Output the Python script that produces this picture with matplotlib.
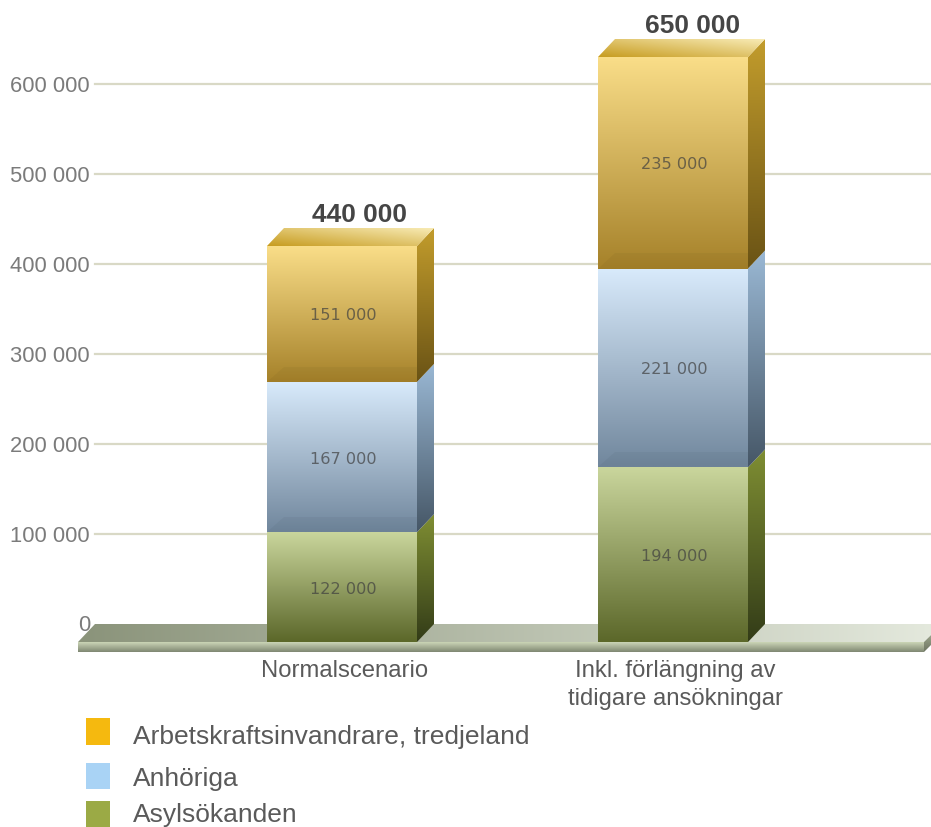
import numpy as np
import matplotlib
matplotlib.use("Agg")
from matplotlib import pyplot as plt
from matplotlib.colors import to_rgb
from matplotlib.patches import Polygon, Rectangle

plt.rcParams['font.family'] = ['Liberation Sans', 'DejaVu Sans']

# Data
categories = ["Normalscenario", "Inkl. förlängning av\ntidigare ansökningar"]
series_names = ["Asylsökanden", "Anhöriga", "Arbetskraftsinvandrare, tredjeland"]
asylum = [122000, 194000]
relatives = [167000, 221000]
workers = [151000, 235000]
y_ticks = [0, 100000, 200000, 300000, 400000, 500000, 600000]

# front top, front bottom, side top, side bottom
styles = [
    ("#C9D59C", "#5C682A", "#7F8E33", "#333C18"),
    ("#D8EAFB", "#71879D", "#9AB8D4", "#465767"),
    ("#F9DD88", "#A6822A", "#C29C2C", "#6A5315"),
]
legend_colors = ["#9BAA45", "#A9D3F5", "#F5B90F"]

W, H = 931, 828
PX = 0.0009  # pixels per unit of value
BASE = 643   # pixel row of value 0 on the front plane
DEPTH_Y = 18 / PX
DEPTH_X = 17 / 331
BAR_W = 150 / 331

fig = plt.figure(figsize=(W / 100, H / 100), dpi=100)
ax = fig.add_axes([0, 0, 1, 1])
ax.set_xlim(-342 / 331, (W - 342) / 331)
ax.set_ylim((BASE - H) / PX, BASE / PX)
ax.axis("off")


def px(x, y):
    # layout helper: image pixel to data position
    return (x - 342) / 331, (BASE - y) / PX


def face(pts, c0, c1, direction="v", z=3):
    # gradient filled polygon, c0 = top/left, c1 = bottom/right
    pts = np.array(pts)
    x0, x1 = pts[:, 0].min(), pts[:, 0].max()
    y0, y1 = pts[:, 1].min(), pts[:, 1].max()
    n = 64
    u, v = np.meshgrid(np.linspace(0, 1, n), np.linspace(0, 1, n))
    t = {"v": v, "h": u, "d": (u + (1 - v)) / 2}[direction]
    a, b = np.array(to_rgb(c0)), np.array(to_rgb(c1))
    img = a + (b - a) * t[..., None]
    im = ax.imshow(img, extent=(x0, x1, y0, y1), origin="upper", aspect="auto",
                   zorder=z, interpolation="bilinear")
    im.set_clip_path(Polygon(pts, closed=True, transform=ax.transData))


# Grid lines sit on the back plane
for v in y_ticks[1:]:
    xa, _ = px(95, 0)
    ax.plot([xa, ax.get_xlim()[1]], [v + DEPTH_Y] * 2, color="#D9D9C6", lw=1.6, zorder=1)
for v in y_ticks:
    xa, _ = px(90, 0)
    ax.text(xa, v + DEPTH_Y - 1 / PX, f"{v:,}".replace(",", " "), ha="right", va="center",
            fontsize=15.8, color="#7B7B7B", zorder=6)

# Floor
fl, fr = px(78, 0)[0], px(924, 0)[0]
strip = 10 / PX
face([(fl, 0), (fr, 0), (fr + DEPTH_X * 0.45, DEPTH_Y * 0.45), (fr + DEPTH_X, DEPTH_Y),
      (fl + DEPTH_X, DEPTH_Y)], "#8B947B", "#E4E9DD", "h", z=2)
face([(fl, 0), (fr, 0), (fr, -strip), (fl, -strip)], "#CBD5B6", "#7F8772", "v", z=2)
face([(fr, 0), (fr + 7 / 331, 7 / PX), (fr + 7 / 331, -3 / PX), (fr, -strip)],
     "#9AA38A", "#6E7562", "v", z=2)

# Stacked 3D bars
for i, cat in enumerate(categories):
    left = i - BAR_W / 2
    right = i + BAR_W / 2
    bottom = 0
    for k, (vals, st) in enumerate(zip((asylum, relatives, workers), styles)):
        top = bottom + vals[i]
        face([(left, bottom), (right, bottom), (right, top), (left, top)], st[0], st[1], "v", z=3)
        face([(right, bottom), (right + DEPTH_X, bottom + DEPTH_Y),
              (right + DEPTH_X, top + DEPTH_Y), (right, top)], st[2], st[3], "v", z=3)
        # faint slanted floor of the segment, seen through the front
        if k > 0:
            ax.add_patch(Polygon([(left, bottom), (right, bottom), (right, bottom + DEPTH_Y * 0.85),
                                  (left + DEPTH_X, bottom + DEPTH_Y * 0.85)],
                                 closed=True, fc="black", ec="none", alpha=0.035, zorder=4))
        ax.text(i + 0.003, (bottom + top) / 2 - 1 / PX, f"{vals[i]:,}".replace(",", " "), ha="center",
                va="center", fontsize=11.6, family="DejaVu Sans", color="#3F3F3F", alpha=0.7, zorder=6)
        bottom = top
    # lid of the top segment
    face([(left, bottom), (right, bottom), (right + DEPTH_X, bottom + DEPTH_Y),
          (left + DEPTH_X, bottom + DEPTH_Y)], "#C79C20", "#F8EBB5", "d", z=3)
    ax.text(i + DEPTH_X + i * 3 / 331, bottom + DEPTH_Y + 14 / PX, f"{bottom:,}".replace(",", " "), ha="center",
            va="center", fontsize=18.9, fontweight="bold", color="#454545", zorder=6)
    ax.text(i + 0.007, px(0, 660)[1], cat, ha="center", va="top", fontsize=17.2,
            color="#5A5A5A", linespacing=1.38, zorder=6)

# Legend, top to bottom
rows = [(719, 746, 737), (764, 790, 779), (802, 828, 815)]
for name, col, (r0, r1, ty) in zip(series_names[::-1], legend_colors[::-1], rows):
    x0, y0 = px(86, r1)
    x1, y1 = px(110, r0)
    ax.add_patch(Rectangle((x0, y0), x1 - x0, y1 - y0, fc=col, ec="none", zorder=6))
    ax.text(px(133, 0)[0], px(0, ty)[1], name, ha="left", va="center", fontsize=19,
            color="#5A5A5A", zorder=6)

fig.savefig("out.png", dpi=100)
